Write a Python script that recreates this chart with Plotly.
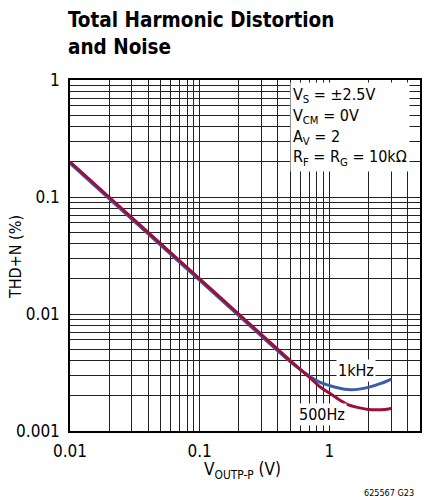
import plotly.graph_objects as go

# ---- data ----
vout = [0.01, 0.02, 0.05, 0.1, 0.2, 0.5, 0.7, 0.85, 1.0, 1.2, 1.4, 1.7, 2.0, 2.5, 3.0]
thd_1khz = [0.194, 0.097, 0.0388, 0.0194, 0.0097, 0.0039, 0.00295, 0.0026, 0.00245,
            0.00232, 0.00226, 0.00228, 0.00236, 0.00255, 0.00278]
thd_500hz = [0.2, 0.1, 0.04, 0.02, 0.01, 0.004, 0.00288, 0.00238, 0.00211,
             0.00184, 0.00167, 0.00158, 0.00153, 0.00152, 0.00156]

x_ticks = [0.01, 0.1, 1]
x_ticktext = ["0.01", "0.1", "1"]
y_ticks = [0.001, 0.01, 0.1, 1]
y_ticktext = ["0.001", "0.01", "0.1", "1"]

x_minor = [m * 10 ** k for k in (-2, -1) for m in range(2, 10)] + [2, 3, 4]
y_minor = [m * 10 ** k for k in (-3, -2, -1) for m in range(2, 10)]

FONT = "DejaVu Sans Condensed, Liberation Sans Narrow, Arial Narrow, sans-serif"
BLUE = "#3B5CA8"
RED = "#9C0F38"
GRID = "#222222"

# plot area in pixels (for paper-relative placement of free text)
L, R, T, B = 70, 5, 80, 71
W, H = 425, 502
PW, PH = W - L - R, H - T - B


def px_x(p):
    return (p - L) / PW


def px_y(p):
    return 1 - (p - T) / PH


fig = go.Figure()
fig.add_trace(go.Scatter(x=vout, y=thd_1khz, mode="lines",
                         line=dict(color=BLUE, width=3, shape="spline"),
                         showlegend=False))
fig.add_trace(go.Scatter(x=vout, y=thd_500hz, mode="lines",
                         line=dict(color=RED, width=3, shape="spline"),
                         showlegend=False))

axis_common = dict(
    type="log", showline=True, mirror=True, linecolor="black", linewidth=1.5,
    showgrid=True, gridcolor=GRID, gridwidth=1, ticks="", zeroline=False,
    automargin=False,
    tickfont=dict(family=FONT, size=17, color="black"),
)

fig.update_xaxes(
    **axis_common, range=[-2, 0.699], tickmode="array",
    tickvals=x_ticks, ticktext=x_ticktext, ticklabelstandoff=4,
    minor=dict(tickmode="array", tickvals=x_minor, showgrid=True,
               gridcolor=GRID, gridwidth=1, ticks=""),
)
fig.update_yaxes(
    **axis_common, range=[-3, 0], tickmode="array",
    tickvals=y_ticks, ticktext=y_ticktext, ticklabelstandoff=5,
    minor=dict(tickmode="array", tickvals=y_minor, showgrid=True,
               gridcolor=GRID, gridwidth=1, ticks=""),
)

# axis titles
fig.add_annotation(xref="paper", yref="paper", x=px_x(242), y=px_y(471),
                   xanchor="center", yanchor="middle",
                   text="V<sub>OUTP-P</sub> (V)", showarrow=False,
                   font=dict(family=FONT, size=17, color="black"))
fig.add_annotation(xref="paper", yref="paper", x=px_x(15), y=px_y(257),
                   xanchor="center", yanchor="middle",
                   text="THD+N (%)", textangle=-90, showarrow=False,
                   font=dict(family=FONT, size=16, color="black"))

# title
fig.add_annotation(xref="paper", yref="paper", x=px_x(66), y=px_y(6),
                   xanchor="left", yanchor="top", align="left", showarrow=False,
                   text="<b>Total Harmonic Distortion<br>and Noise</b>",
                   font=dict(family=FONT, size=20.5, color="black"))

# conditions box
fig.add_annotation(
    xref="paper", yref="paper", x=px_x(290), y=px_y(82),
    xanchor="left", yanchor="top", align="left", showarrow=False,
    text="V<sub>S</sub> = ±2.5V<br>V<sub>CM</sub> = 0V<br>A<sub>V</sub> = 2<br>"
         "R<sub>F</sub> = R<sub>G</sub> = 10kΩ",
    font=dict(family=FONT, size=16, color="black"),
    bgcolor="white", borderpad=2,
)
fig.add_annotation(x=0.204, y=-2.482, xref="x", yref="y", text="1kHz",
                   xanchor="center", yanchor="middle",
                   showarrow=False, font=dict(family=FONT, size=16, color="black"),
                   bgcolor="white", borderpad=1)
fig.add_annotation(x=-0.055, y=-2.86, xref="x", yref="y", text="500Hz",
                   xanchor="center", yanchor="middle",
                   showarrow=False, font=dict(family=FONT, size=16, color="black"),
                   bgcolor="white", borderpad=1)
fig.add_annotation(xref="paper", yref="paper", x=px_x(416), y=px_y(493),
                   xanchor="right", yanchor="middle", text="625567 G23",
                   showarrow=False, font=dict(family=FONT, size=9, color="black"))

fig.update_layout(
    width=W, height=H,
    margin=dict(l=L, r=R, t=T, b=B),
    paper_bgcolor="white", plot_bgcolor="white",
)

fig.write_html("out.html", config={"displayModeBar": False},
               post_script="document.body.style.margin='0';document.body.style.overflow='hidden';")
